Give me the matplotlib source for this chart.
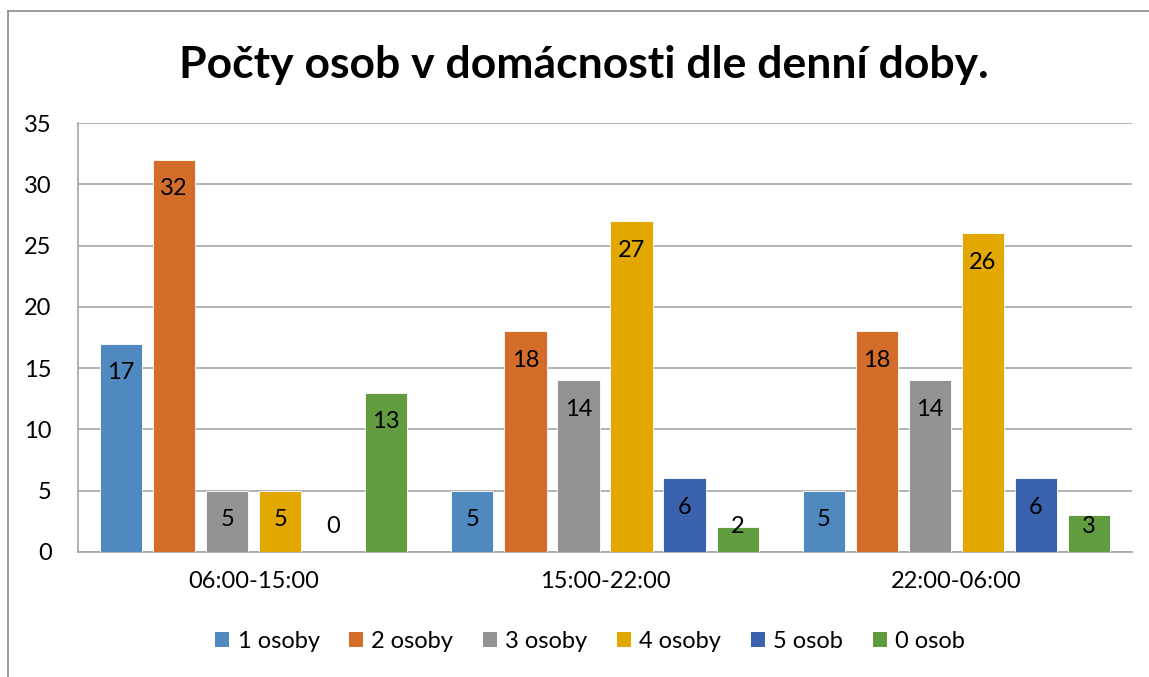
import numpy as np
import matplotlib.pyplot as plt
from matplotlib.lines import Line2D
from matplotlib.patches import Patch

plt.rcParams['font.family'] = ['Lato', 'DejaVu Sans']

# Počty osob podle denní doby
categories = ['06:00-15:00', '15:00-22:00', '22:00-06:00']
series_names = ['1 osoby', '2 osoby', '3 osoby', '4 osoby', '5 osob', '0 osob']
osoby_1 = [17, 5, 5]
osoby_2 = [32, 18, 18]
osoby_3 = [5, 14, 14]
osoby_4 = [5, 27, 26]
osoby_5 = [0, 6, 6]
osoby_0 = [13, 2, 3]
values = [osoby_1, osoby_2, osoby_3, osoby_4, osoby_5, osoby_0]
colors = ['#4F89BF', '#D46D2A', '#939393', '#E2A800', '#3B62AE', '#629C41']

fig = plt.figure(figsize=(11.49, 6.77), dpi=100)
ax = fig.add_axes([78 / 1149, 1 - 552 / 677, (1132 - 78) / 1149, (552 - 123) / 677])

x = np.arange(len(categories))
step = 0.151
width = 0.12
lab_off = 2.37   # popisek uvnitř pod vrcholem sloupce
lab_min = 2.04   # u nízkých sloupců nejníž sem
for i, (vals, col) in enumerate(zip(values, colors)):
    pos = x + (i - 2.5) * step
    ax.bar(pos, vals, width, color=col, edgecolor='#ffffff', linewidth=0.6, zorder=3)
    for px, v in zip(pos, vals):
        ax.text(px, max(v - lab_off, lab_min), str(v), ha='center', va='center',
                fontsize=17, color='black', zorder=4)

ax.set_xlim(-0.5, 2.5)
ax.set_ylim(0, 35)
ax.set_yticks(range(0, 36, 5))
ax.set_xticks(x)
ax.set_xticklabels(categories)
ax.yaxis.grid(True, color='#a6a6a6', linewidth=1.2, zorder=0)
ax.set_axisbelow(True)
ax.tick_params(axis='both', length=0, labelsize=17)
ax.tick_params(axis='y', pad=19)
ax.tick_params(axis='x', pad=14)
for s in ['top', 'right']:
    ax.spines[s].set_visible(False)
ax.spines['left'].set_color('#a6a6a6')
ax.spines['bottom'].set_color('#a6a6a6')
ax.spines['left'].set_linewidth(1.2)
ax.spines['bottom'].set_linewidth(1.2)

fig.text(584 / 1149, 1 - 65 / 677, 'Počty osob v domácnosti dle denní doby.',
         ha='center', va='center', fontsize=32, fontweight='bold')

handles = [Patch(facecolor=c, edgecolor='none') for c in colors]
fig.legend(handles, series_names, loc='center', bbox_to_anchor=(590 / 1149, 1 - 641 / 677),
           ncol=6, frameon=False, fontsize=17, handlelength=0.6, handleheight=0.6,
           handletextpad=0.35, columnspacing=1.25)

# rámeček grafu
fig.add_artist(Line2D([8 / 1149, 1], [1 - 11 / 677, 1 - 11 / 677], color='#8c8c8c', linewidth=1.2))
fig.add_artist(Line2D([8 / 1149, 8 / 1149], [0, 1 - 11 / 677], color='#8c8c8c', linewidth=1.2))

fig.savefig('out.png', dpi=100)
